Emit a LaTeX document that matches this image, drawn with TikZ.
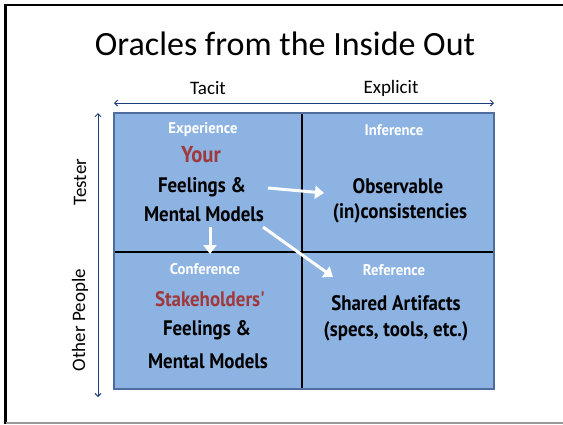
\documentclass[tikz,border=0pt]{standalone}
\usepackage{fontspec}
\setmainfont{Carlito}
\newfontfamily\hand{PT Sans}
\usetikzlibrary{arrows.meta}
\definecolor{boxfill}{HTML}{8DB3E2}
\definecolor{boxedge}{HTML}{4F6E9E}
\definecolor{axis}{HTML}{1F3C7A}
\definecolor{redtxt}{HTML}{A0393B}
\tikzset{
  lbl/.style={font=\hand\bfseries\fontsize{15.5}{18}\selectfont, text=white, inner sep=0pt, xscale=0.95},
  body/.style={font=\hand\bfseries\fontsize{21}{25}\selectfont, text=black, inner sep=0pt, xscale=0.9},
  redbody/.style={font=\hand\bfseries\fontsize{21}{25}\selectfont, text=redtxt, inner sep=0pt, xscale=0.9},
  axislbl/.style={font=\fontsize{19}{22}\selectfont, inner sep=0pt},
  axisarrow/.style={draw=axis, line width=0.9pt, {Straight Barb[length=3pt,width=6pt]}-{Straight Barb[length=3pt,width=6pt]}},
  whitearrow/.style={draw=white, line width=3pt, -{Triangle[length=9pt,width=13pt]}},
}
\begin{document}
\begin{tikzpicture}[x=1pt,y=-1pt]
\useasboundingbox (0,0) rectangle (563,424);
% slide frame
\draw[line width=2.2pt] (563,5) -- (5.5,5) -- (5.5,424);
\draw[gray!80, line width=1.5pt] (5.5,423) -- (563,423);
% title
\node (title) at (285,44) {\fontsize{34}{40}\selectfont Oracles from the Inside Out};
% grid
\fill[boxfill] (114,113) rectangle (494,389);
\draw[black, line width=1.6pt] (302,113) -- (302,389);
\draw[black, line width=1.6pt] (114,252) -- (494,252);
\draw[boxedge, line width=1.6pt] (114,113) rectangle (494,389);
% axes
\coordinate (hl) at (114,103);
\coordinate (hr) at (494,103);
\coordinate (vt) at (98,113);
\coordinate (vb) at (98,397);
\draw[axisarrow] (hl) -- (hr);
\draw[axisarrow] (vt) -- (vb);
\node[axislbl] (tacit) at (208,88) {Tacit};
\node[axislbl] (explicit) at (391,88) {Explicit};
\node[axislbl, rotate=90] (tester) at (80,182) {Tester};
\node[axislbl, rotate=90] (other) at (80,320) {Other People};
% quadrant 1
\node[lbl] (exp) at (203,130) {Experience};
\node[redbody, font=\hand\bfseries\fontsize{23}{27}\selectfont] (your) at (201,155) {Your};
\node[body] (feel1) at (202,187) {Feelings \&};
\node[body] (ment1) at (204,214) {Mental Models};
% quadrant 2
\node[lbl] (inf) at (394,130) {Inference};
\node[body] (obs) at (398,186) {Observable};
\node[body] (incons) at (400,213) {(in)consistencies};
% quadrant 3
\node[lbl] (conf) at (205,269) {Conference};
\node[redbody] (stake) at (210,299) {Stakeholders'};
\node[body] (feel2) at (207,330) {Feelings \&};
\node[body] (ment2) at (208,361) {Mental Models};
% quadrant 4
\node[lbl] (ref) at (394,270) {Reference};
\node[body] (shared) at (396,303) {Shared Artifacts};
\node[body] (specs) at (396,331) {(specs, tools, etc.)};
% white arrows
\coordinate (a1s) at (268,188);
\coordinate (a1e) at (324,193);
\coordinate (a2s) at (263,227);
\coordinate (a2e) at (333,277);
\coordinate (a3s) at (210,227);
\coordinate (a3e) at (210,254);
\draw[whitearrow] (a1s) -- (a1e);
\draw[whitearrow] (a2s) -- (a2e);
\draw[whitearrow] (a3s) -- (a3e);
\end{tikzpicture}
\end{document}
